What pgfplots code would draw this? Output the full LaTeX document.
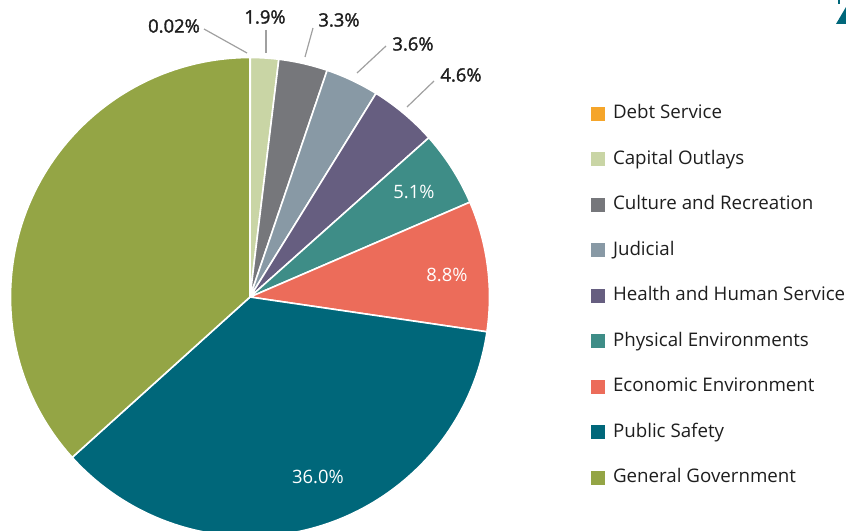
\documentclass[border=0pt]{standalone}
\usepackage{pgfplots}
\pgfplotsset{compat=1.18}
\usepackage{pgfplotstable}
\usepackage{fontspec}
\setmainfont{Open Sans}
\newfontfamily\semib{Open Sans}[FakeBold=1.6]
\definecolor{cDebt}{HTML}{F5A52A}
\definecolor{cCap}{HTML}{C9D5A5}
\definecolor{cCul}{HTML}{76777B}
\definecolor{cJud}{HTML}{8899A5}
\definecolor{cHea}{HTML}{665E80}
\definecolor{cPhy}{HTML}{3E8D87}
\definecolor{cEco}{HTML}{EC6C5A}
\definecolor{cPub}{HTML}{00677A}
\definecolor{cGen}{HTML}{94A545}
\definecolor{txt}{HTML}{1E1E1E}
\definecolor{lead}{HTML}{A0A0A0}
% share of each category in percent (start = cumulative share before it)
\pgfplotstableread{
name start value
Debt      0.00  0.02
Capital   0.02  1.9
Culture   1.92  3.3
Judicial  5.22  3.6
Health    8.82  4.6
Physical 13.42  5.1
Economic 18.52  8.8
Public   27.32 36.0
General  63.32 36.68
}\sharetable
\newcommand{\slice}[3]{%
  \fill[fill=#3, draw=white, line width=1.6bp, line join=round]
    (axis cs:250,297) -- ++({90-3.6*#1}:239.5bp)
    arc[start angle={90-3.6*#1}, delta angle={-3.6*#2}, radius=239.5bp] -- cycle;}
\begin{document}
\begin{tikzpicture}
\begin{axis}[
  width=846bp, height=531bp, scale only axis,
  xmin=0, xmax=846, ymin=0, ymax=531, y dir=reverse,
  hide axis, clip=true,
  legend style={at={(axis cs:591,105)}, anchor=north west, draw=none, fill=none,
    font=\fontsize{18.8}{22}\selectfont\color{txt}, row sep=28bp,
    inner sep=0pt, outer sep=0pt,
    nodes={inner sep=0pt, text height=13.5bp, text depth=4bp},
    column sep=8bp},
  legend cell align=left,
  legend image code/.code={\fill[#1, draw=none] (0bp,-7bp) rectangle (14bp,7bp);},
]
\slice{0.00}{0.02}{cDebt}
\slice{0.02}{1.9}{cCap}
\slice{1.92}{3.3}{cCul}
\slice{5.22}{3.6}{cJud}
\slice{8.82}{4.6}{cHea}
\slice{13.42}{5.1}{cPhy}
\slice{18.52}{8.8}{cEco}
\slice{27.32}{36.0}{cPub}
\slice{63.32}{36.68}{cGen}
% leader lines
\draw[lead, line width=1.2bp] (axis cs:204,29) -- (axis cs:247,53);
\draw[lead, line width=1.2bp] (axis cs:266,30) -- (axis cs:266,53);
\draw[lead, line width=1.2bp] (axis cs:313,28) -- (axis cs:305,57);
\draw[lead, line width=1.2bp] (axis cs:386,46) -- (axis cs:357,73);
\draw[lead, line width=1.2bp] (axis cs:434,81) -- (axis cs:407,107);
% outside labels
\begin{scope}[every node/.style={font=\semib\fontsize{18.5}{22}\selectfont, text=txt, inner sep=0pt}]
\node at (axis cs:174,26) {0.02\%};
\node at (axis cs:265,17) {1.9\%};
\node at (axis cs:339,20) {3.3\%};
\node at (axis cs:413,44) {3.6\%};
\node at (axis cs:461,75) {4.6\%};
\end{scope}
% inside labels
\begin{scope}[every node/.style={font=\fontsize{18.5}{22}\selectfont, text=white, inner sep=0pt}]
\node at (axis cs:414,192) {5.1\%};
\node at (axis cs:447,275) {8.8\%};
\node at (axis cs:318,477) {36.0\%};
\end{scope}
% cropped element at top right
\fill[cPub] (axis cs:836,24) -- (axis cs:846,7) -- (axis cs:846,24) -- cycle;
\fill[cPub] (axis cs:838,0) rectangle (axis cs:840,4);
\addlegendimage{fill=cDebt}\addlegendentry{Debt Service}
\addlegendimage{fill=cCap}\addlegendentry{Capital Outlays}
\addlegendimage{fill=cCul}\addlegendentry{Culture and Recreation}
\addlegendimage{fill=cJud}\addlegendentry{Judicial}
\addlegendimage{fill=cHea}\addlegendentry{Health and Human Service}
\addlegendimage{fill=cPhy}\addlegendentry{Physical Environments}
\addlegendimage{fill=cEco}\addlegendentry{Economic Environment}
\addlegendimage{fill=cPub}\addlegendentry{Public Safety}
\addlegendimage{fill=cGen}\addlegendentry{General Government}
\end{axis}
\pgfresetboundingbox
\useasboundingbox (current axis.south west) rectangle (current axis.north east);
\end{tikzpicture}
\end{document}
